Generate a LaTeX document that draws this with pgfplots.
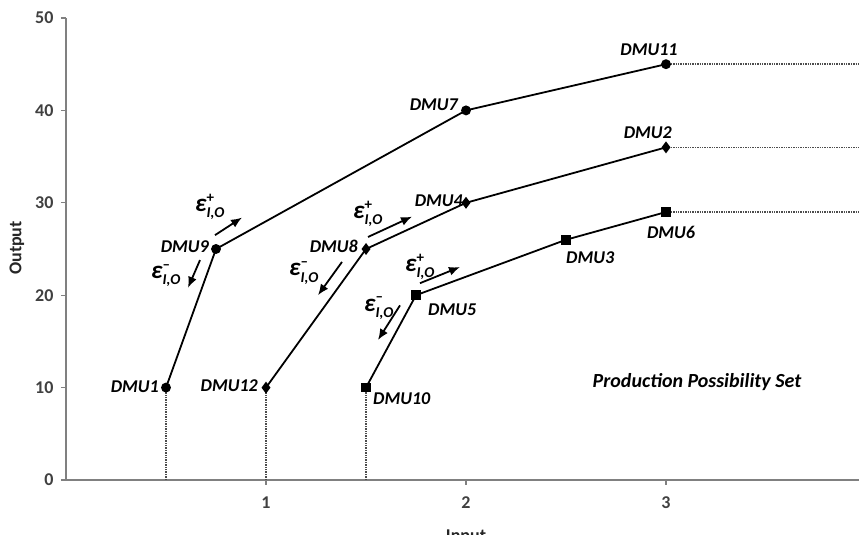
\documentclass[border=0pt]{standalone}
\usepackage{fontspec}
\setmainfont{Carlito}
\usepackage{pgfplots}
\pgfplotsset{compat=1.18}
\usetikzlibrary{arrows.meta}
\definecolor{axgray}{HTML}{808080}
\definecolor{tickgray}{HTML}{404040}
\newcommand{\lab}{\fontsize{18}{18}\selectfont\bfseries\itshape}
\newcommand{\eps}[1]{{\fontsize{25}{25}\selectfont$\mbox{\bfseries\itshape ε}^{\mbox{\fontsize{15}{15}\selectfont\bfseries #1}}_{\mbox{\fontsize{15}{15}\selectfont\bfseries\itshape I,O}}$}}
\begin{document}
\begin{tikzpicture}
\begin{axis}[
  scale only axis, width=793pt, height=462pt,
  xmin=0, xmax=3.965, ymin=0, ymax=50,
  axis lines*=left,
  axis line style={axgray, line width=1.5pt},
  xtick={1,2,3}, ytick={0,10,...,50},
  tick style={axgray, line width=1.2pt},
  tick align=outside, major tick length=5pt,
  ticklabel style={font=\fontsize{18}{18}\selectfont\bfseries, text=tickgray},
  /pgf/number format/assume math mode=true,
  xticklabel style={yshift=-8pt},
  yticklabel style={xshift=-4pt},
  clip=false,
]
% dotted guides
\addplot[black!70, densely dotted, line width=1.4pt] coordinates {(0.5,0) (0.5,10)};
\addplot[black!70, densely dotted, line width=1.4pt] coordinates {(1,0) (1,10)};
\addplot[black!70, densely dotted, line width=1.4pt] coordinates {(1.5,0) (1.5,10)};
\addplot[black!70, densely dotted, line width=1.4pt] coordinates {(3,45) (3.965,45)};
\addplot[black!70, densely dotted, line width=1.4pt] coordinates {(3,36) (3.965,36)};
\addplot[black!70, densely dotted, line width=1.4pt] coordinates {(3,29) (3.965,29)};
% frontiers
\addplot[black, line width=1.8pt, mark=*, mark size=4pt] coordinates {(0.5,10) (0.75,25) (2,40) (3,45)};
\addplot[black, line width=1.8pt, mark=diamond*, mark size=4.5pt] coordinates {(1,10) (1.5,25) (2,30) (3,36)};
\addplot[black, line width=1.8pt, mark=square*, mark size=4pt] coordinates {(1.5,10) (1.75,20) (2.5,26) (3,29)};
% labels
\node[font=\lab, inner sep=0pt, anchor=base east, xshift=-7pt, yshift=-5pt] at (axis cs:0.5,10) {DMU1};
\node[font=\lab, inner sep=0pt, anchor=base east, xshift=-7pt, yshift=-4pt] at (axis cs:0.75,25) {DMU9};
\node[font=\lab, inner sep=0pt, anchor=base east, xshift=-8pt, yshift=0pt] at (axis cs:2,40) {DMU7};
\node[font=\lab, inner sep=0pt, anchor=base, xshift=-17pt, yshift=9pt] at (axis cs:3,45) {DMU11};
\node[font=\lab, inner sep=0pt, anchor=base east, xshift=-8pt, yshift=-4pt] at (axis cs:1,10) {DMU12};
\node[font=\lab, inner sep=0pt, anchor=base east, xshift=-8pt, yshift=-4pt] at (axis cs:1.5,25) {DMU8};
\node[font=\lab, inner sep=0pt, anchor=base east, xshift=-3pt, yshift=-4pt] at (axis cs:2,30) {DMU4};
\node[font=\lab, inner sep=0pt, anchor=base east, xshift=6pt, yshift=9pt] at (axis cs:3,36) {DMU2};
\node[font=\lab, inner sep=0pt, anchor=base west, xshift=7pt, yshift=-17pt] at (axis cs:1.5,10) {DMU10};
\node[font=\lab, inner sep=0pt, anchor=base west, xshift=12pt, yshift=-20pt] at (axis cs:1.75,20) {DMU5};
\node[font=\lab, inner sep=0pt, anchor=base west, xshift=0pt, yshift=-24pt] at (axis cs:2.5,26) {DMU3};
\node[font=\lab, inner sep=0pt, anchor=base, xshift=5pt, yshift=-26pt] at (axis cs:3,29) {DMU6};
\node[font=\fontsize{20}{20}\selectfont\bfseries\itshape, inner sep=0pt] at (axis cs:3.155,10.6) {Production Possibility Set};
% arrows
\draw[-{Latex[length=11pt,width=9pt]}, line width=1.8pt] (axis cs:0.745,26.5) -- (axis cs:0.88,28.4);
\draw[-{Latex[length=11pt,width=9pt]}, line width=1.8pt] (axis cs:0.67,23.8) -- (axis cs:0.61,20.8);
\draw[-{Latex[length=11pt,width=9pt]}, line width=1.8pt] (axis cs:1.51,26.3) -- (axis cs:1.73,28.5);
\draw[-{Latex[length=11pt,width=9pt]}, line width=1.8pt] (axis cs:1.38,23.6) -- (axis cs:1.26,20.0);
\draw[-{Latex[length=11pt,width=9pt]}, line width=1.8pt] (axis cs:1.77,21.3) -- (axis cs:1.97,23.05);
\draw[-{Latex[length=11pt,width=9pt]}, line width=1.8pt] (axis cs:1.67,18.9) -- (axis cs:1.56,15.15);
% epsilon labels
\node[inner sep=0pt] at (axis cs:0.72,29.6) {\eps{+}};
\node[inner sep=0pt] at (axis cs:0.5,22.1) {\eps{–}};
\node[inner sep=0pt] at (axis cs:1.51,28.8) {\eps{+}};
\node[inner sep=0pt] at (axis cs:1.19,22.4) {\eps{–}};
\node[inner sep=0pt] at (axis cs:1.77,23.1) {\eps{+}};
\node[inner sep=0pt] at (axis cs:1.565,18.6) {\eps{–}};
\end{axis}
\node[font=\fontsize{18}{18}\selectfont\bfseries, text=black!85, anchor=north] at (400pt,-46pt) {Input};
\node[font=\fontsize{18}{18}\selectfont\bfseries, text=black!85, rotate=90] at (-49pt,232pt) {Output};
\pgfresetboundingbox
\path[use as bounding box] (-66pt,-55pt) rectangle (793pt,480pt);
\end{tikzpicture}
\end{document}
